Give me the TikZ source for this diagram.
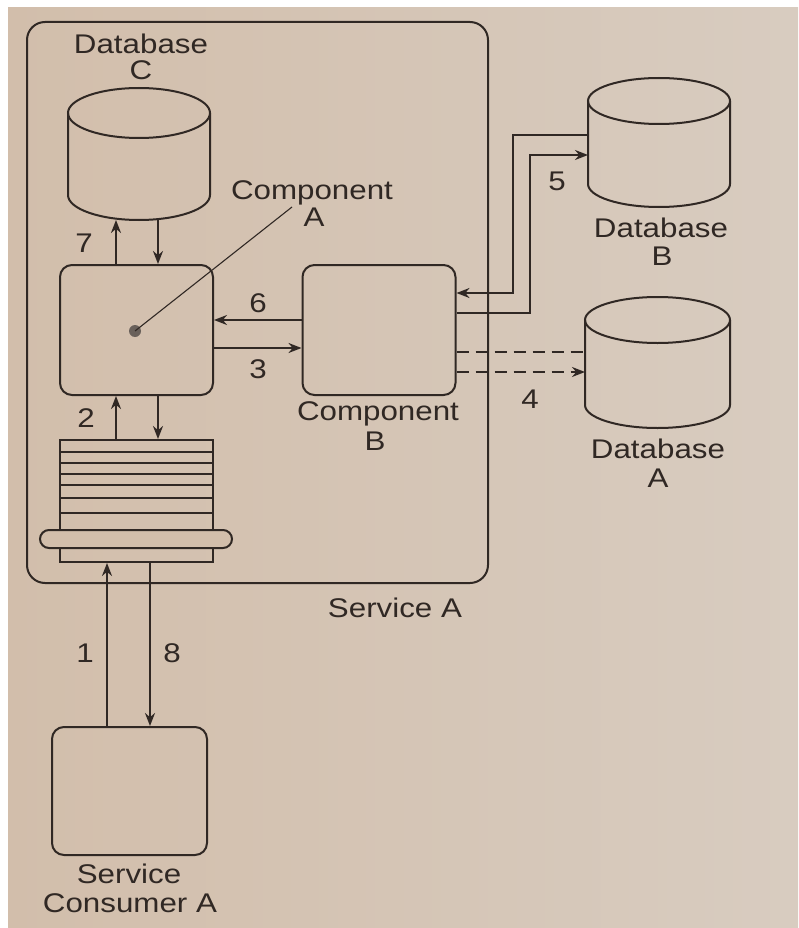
\documentclass[tikz,border=0pt]{standalone}
\usepackage{fontspec}
\setmainfont{Liberation Sans}[FakeStretch=1.16]
\usetikzlibrary{arrows.meta,calc}
\definecolor{paper}{RGB}{210,190,171}
\definecolor{paperR}{RGB}{216,204,192}
\definecolor{ink}{RGB}{48,40,36}
\definecolor{dotgray}{RGB}{105,96,90}
\tikzset{
  ln/.style={draw=ink, line width=2pt},
  boxed/.style={ln, rounded corners=12pt, inner sep=0pt, minimum width=153pt, minimum height=130pt},
  arr/.style={ln, -{Stealth[length=13pt,width=10pt]}},
  dsh/.style={ln, dash pattern=on 12pt off 7pt},
  lbl/.style={text=ink, inner sep=0pt, anchor=base, font=\fontsize{27}{29}\selectfont, align=center},
  hidden/.style={inner sep=0pt, minimum size=0pt}
}
\newcommand{\dbcyl}[5]{% cx, top y, rx, ry, bottom y
  \draw[ln] (#1,#2) ellipse [x radius=#3, y radius=#4];
  \draw[ln] (#1-#3,#2) -- (#1-#3,#5) arc[start angle=180, end angle=0, x radius=#3, y radius=#4] -- (#1+#3,#2);
}
\begin{document}
\begin{tikzpicture}[x=1pt,y=-1pt]
\useasboundingbox (0,0) rectangle (798,928);
\fill[white] (0,0) rectangle (798,928);
\shade[left color=paper, right color=paperR] (8,8) rectangle (798,928);

% Service A container
\node[ln, rounded corners=18pt, minimum width=461pt, minimum height=561pt, inner sep=0pt] (svcA) at (257.5,302.5) {};
\node[lbl] (svcAlbl) at (395,617) {Service A};

% Database C
\dbcyl{139}{113}{71}{25}{195}
\coordinate (dbCbot) at (139,220);
\node[lbl] (dbClbl) at (141,54) {Database};
\node[lbl] (dbClbl2) at (141,80) {C};

% Database B
\dbcyl{659}{101}{71}{23}{184}
\coordinate (dbBleft) at (588,140);
\node[lbl] (dbBlbl) at (661,237) {Database};
\node[lbl] (dbBlbl2) at (662,265) {B};

% Database A
\dbcyl{657.5}{320}{72.5}{23}{405}
\coordinate (dbAleft) at (585,360);
\node[lbl] (dbAlbl) at (658,458) {Database};
\node[lbl] (dbAlbl2) at (658,487) {A};

% Components
\node[boxed] (compA) at (136.5,330) {};
\node[boxed] (compB) at (379,330) {};
\node[lbl] (compAlbl) at (312,200) {Component};
\node[lbl] (compAlbl2) at (314,226) {A};
\node[lbl] (compBlbl) at (378,420) {Component};
\node[lbl] (compBlbl2) at (375,450) {B};

% leader from Component A label
\node[circle, fill=dotgray, inner sep=0pt, minimum size=12pt] (dotA) at (135,331) {};
\coordinate (leadEnd) at (292,207);
\draw[draw=ink, line width=1.1pt] (dotA.center) -- (leadEnd);

% Queue
\node[ln, inner sep=0pt, minimum width=153pt, minimum height=122pt] (queue) at (136.5,501) {};
\foreach \yy in {452,463,474,485,498,513}
  \draw[ln] (queue.west |- 0,\yy) -- (queue.east |- 0,\yy);
\node[ln, rounded corners=9pt, inner sep=0pt, minimum width=192pt, minimum height=18pt, fill=paper] (pill) at (136,539) {};

% Service Consumer A
\node[boxed, minimum width=155pt, minimum height=128pt] (cons) at (129.5,791) {};
\node[lbl] (conslbl) at (129,883) {Service};
\node[lbl] (conslbl2) at (130,912) {Consumer A};

% x positions
\coordinate (xL) at (116,0);
\coordinate (xR) at (158,0);
\coordinate (x1) at (107,0);
\coordinate (x8) at (150,0);

% 7 and return
\draw[arr] (compA.north -| xL) -- (dbCbot -| xL);
\draw[arr] (dbCbot -| xR) -- (compA.north -| xR);
\node[lbl] (l7) at (84,252) {7};

% 6 and 3
\draw[arr] (compB.west |- 0,320) -- (compA.east |- 0,320);
\draw[arr] (compA.east |- 0,348) -- (compB.west |- 0,348);
\node[lbl] (l6) at (258,312) {6};
\node[lbl] (l3) at (258,378) {3};

% 2 and return
\draw[arr] (queue.north -| xL) -- (compA.south -| xL);
\draw[arr] (compA.south -| xR) -- (queue.north -| xR);
\node[lbl] (l2) at (86,427) {2};

% 1 and 8
\draw[arr] (cons.north -| x1) -- (queue.south -| x1);
\draw[arr] (queue.south -| x8) -- (cons.north -| x8);
\node[lbl] (l1) at (85,662) {1};
\node[lbl] (l8) at (172,662) {8};

% Database B links
\draw[arr] (dbBleft |- 0,135) -- (513,135) -- (513,293) -- (compB.east |- 0,293);
\draw[arr] (compB.east |- 0,313) -- (530,313) -- (530,155) -- (dbBleft |- 0,155);
\node[lbl] (l5) at (557,190) {5};

% Database A links
\draw[dsh] (compB.east |- 0,352) -- (dbAleft |- 0,352);
\draw[dsh, -{Stealth[length=13pt,width=10pt]}] (compB.east |- 0,372) -- (dbAleft |- 0,372);
\node[lbl] (l4) at (530,408) {4};
\end{tikzpicture}
\end{document}
